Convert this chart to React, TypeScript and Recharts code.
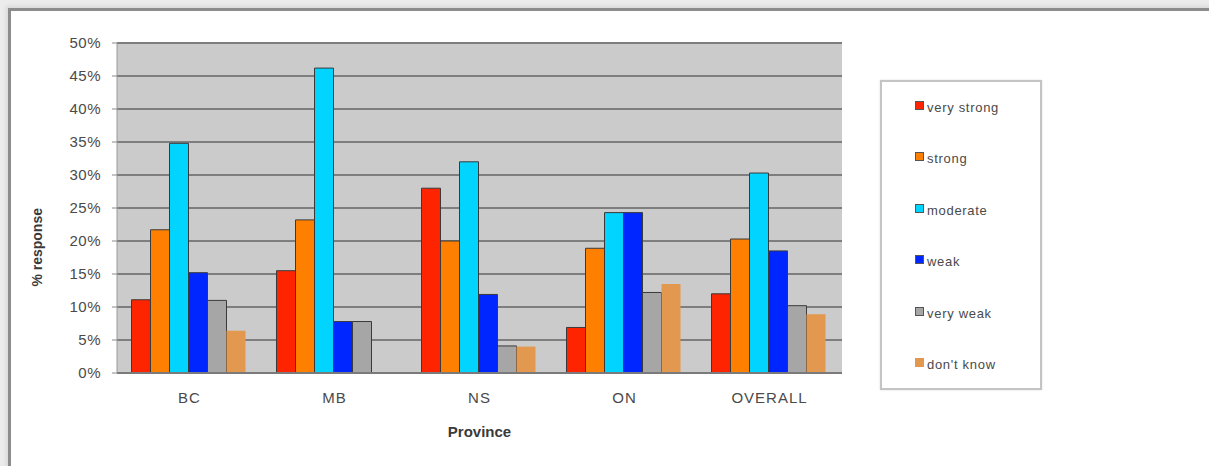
import { Bar, BarChart, CartesianGrid, XAxis, YAxis } from 'recharts'

const provinces = ['BC', 'MB', 'NS', 'ON', 'OVERALL']

const veryStrong = [11.1, 15.5, 28.0, 6.9, 12.0]
const strong = [21.7, 23.2, 20.0, 18.9, 20.3]
const moderate = [34.8, 46.2, 32.0, 24.3, 30.3]
const weak = [15.2, 7.8, 11.9, 24.3, 18.5]
const veryWeak = [11.0, 7.8, 4.1, 12.2, 10.2]
const dontKnow = [6.4, 0, 4.0, 13.5, 8.9]

const yTicks = [0, 5, 10, 15, 20, 25, 30, 35, 40, 45, 50]
const edgeTicks = [0, 1, 2, 3, 4, 5]

const series = [
  { key: 'veryStrong', name: 'very strong', color: '#ff2400', stroke: '#3a3a3a' },
  { key: 'strong', name: 'strong', color: '#ff8000', stroke: '#3a3a3a' },
  { key: 'moderate', name: 'moderate', color: '#00d4ff', stroke: '#3a3a3a' },
  { key: 'weak', name: 'weak', color: '#0026ff', stroke: '#3a3a3a' },
  { key: 'veryWeak', name: 'very weak', color: '#a6a6a6', stroke: '#3a3a3a' },
  { key: 'dontKnow', name: "don't know", color: '#e3984f', stroke: 'none' }
]

const data = provinces.map((p, i) => ({
  province: p,
  veryStrong: veryStrong[i],
  strong: strong[i],
  moderate: moderate[i],
  weak: weak[i],
  veryWeak: veryWeak[i],
  dontKnow: dontKnow[i]
}))

const font = '"Liberation Sans", Arial, sans-serif'

// legend box sits to the right of the plot, one row per series
const LegendBox = () => (
  <div
    style={{
      position: 'absolute',
      left: 880,
      top: 80,
      width: 158,
      height: 306,
      border: '2px solid #c4c4c4',
      boxShadow: '0 0 2px #ddd',
      background: '#fff',
      fontFamily: font
    }}
  >
    {series.map((s, i) => (
      <div
        key={s.key}
        style={{
          position: 'absolute',
          left: 33,
          top: 18 + i * 51.4,
          display: 'flex',
          alignItems: 'center',
          fontSize: 13,
          letterSpacing: 0.7,
          color: '#4a4a4a',
          whiteSpace: 'nowrap'
        }}
      >
        <span
          style={{
            display: 'inline-block',
            width: 7,
            height: 7,
            marginTop: -4,
            marginRight: 3,
            background: s.color,
            border: s.stroke === 'none' ? '1px solid ' + s.color : '1px solid #555'
          }}
        />
        {s.name}
      </div>
    ))}
  </div>
)

export default function App() {
  return (
    <div
      style={{
        position: 'fixed',
        left: 0,
        top: 0,
        width: 1209,
        height: 466,
        overflow: 'hidden',
        background: '#ececec'
      }}
    >
      <div
        style={{
          position: 'absolute',
          left: 8,
          top: 8,
          width: 1220,
          height: 480,
          background: '#fff',
          borderLeft: '3px solid #8c8c8c',
          borderTop: '3px solid #8c8c8c',
          boxShadow: '-2px -2px 4px #d8d8d8'
        }}
      />
      <div style={{ position: 'absolute', left: 0, top: 0 }}>
        <BarChart
          width={1209}
          height={466}
          data={data}
          margin={{ top: 43, right: 367, left: 57, bottom: 63 }}
          barCategoryGap="10%"
          barGap={0}
          style={{ fontFamily: font }}
        >
          <CartesianGrid
            vertical={false}
            fill="#cbcbcb"
            stroke="#7e7e7e"
            strokeWidth={2}
            horizontalValues={yTicks}
          />
          {/* small tick marks on the category boundaries */}
          <XAxis
            xAxisId="edges"
            type="number"
            domain={[0, 5]}
            ticks={edgeTicks}
            height={0}
            tickFormatter={() => ''}
            axisLine={false}
            tickSize={5}
            tickLine={{ stroke: '#8a8a8a' }}
          />
          <XAxis
            xAxisId="cat"
            dataKey="province"
            height={30}
            tickLine={false}
            tickMargin={13}
            axisLine={{ stroke: '#7a7a7a', strokeWidth: 2 }}
            tick={{ fill: '#4a4a4a', fontSize: 15, letterSpacing: 1 }}
            label={{
              value: 'Province',
              position: 'bottom',
              offset: 23,
              fill: '#3a3a3a',
              fontSize: 15,
              fontWeight: 'bold'
            }}
          />
          <YAxis
            domain={[0, 50]}
            ticks={yTicks}
            width={60}
            tickSize={5}
            tickMargin={11}
            interval={0}
            tickFormatter={(v) => `${v}%`}
            axisLine={{ stroke: '#9a9a9a' }}
            tickLine={{ stroke: '#8a8a8a' }}
            tick={{ fill: '#4a4a4a', fontSize: 15, letterSpacing: 0.5 }}
            label={{
              value: '% response',
              angle: -90,
              position: 'left',
              offset: 20,
              fill: '#3a3a3a',
              fontSize: 14,
              fontWeight: 'bold'
            }}
          />
          {series.map((s) => (
            <Bar
              key={s.key}
              xAxisId="cat"
              dataKey={s.key}
              name={s.name}
              fill={s.color}
              stroke={s.stroke}
              strokeWidth={1}
              isAnimationActive={false}
            />
          ))}
        </BarChart>
      </div>
      <LegendBox />
    </div>
  )
}
